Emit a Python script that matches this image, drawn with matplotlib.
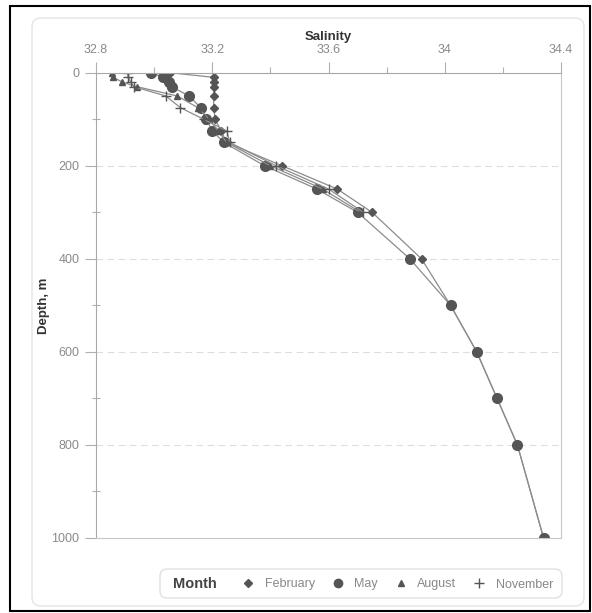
import matplotlib
matplotlib.use("Agg")
import matplotlib.pyplot as plt
from matplotlib.lines import Line2D
from matplotlib.patches import FancyBboxPatch, Rectangle
from matplotlib.ticker import MultipleLocator

plt.rcParams['font.family'] = ['Liberation Sans', 'DejaVu Sans']

# depth profiles of salinity, by month
depth_feb = [0, 10, 20, 30, 50, 75, 100, 125, 150, 200, 250, 300, 400, 500, 600, 700, 800, 1000]
sal_feb = [33.055, 33.205, 33.205, 33.205, 33.205, 33.205, 33.21, 33.23, 33.25, 33.44, 33.63, 33.75,
           33.92, 34.02, 34.11, 34.18, 34.25, 34.34]

depth_may = [0, 10, 20, 30, 50, 75, 100, 125, 150, 200, 250, 300, 400, 500, 600, 700, 800, 1000]
sal_may = [32.99, 33.03, 33.05, 33.06, 33.12, 33.16, 33.18, 33.20, 33.24, 33.38, 33.56, 33.70,
           33.88, 34.02, 34.11, 34.18, 34.25, 34.34]

depth_aug = [0, 10, 20, 30, 50, 75, 100, 125, 150, 200, 250, 300]
sal_aug = [32.855, 32.86, 32.89, 32.94, 33.08, 33.15, 33.19, 33.22, 33.25, 33.40, 33.58, 33.71]

depth_nov = [0, 10, 20, 30, 50, 75, 100, 125, 150, 200, 250, 300]
sal_nov = [32.91, 32.91, 32.92, 32.93, 33.04, 33.09, 33.17, 33.25, 33.26, 33.42, 33.60, 33.72]

months = ['February', 'May', 'August', 'November']
markers = ['D', 'o', '^', '+']
msizes = [4.5, 7, 4.5, 7]

line_col = '#8c8c8c'
mark_col = '#555555'
tick_col = '#8a8a8a'

W, H = 592, 613
fig = plt.figure(figsize=(W / 100, H / 100), dpi=100)

# outer black frame and inner rounded panel
fig.patches.append(Rectangle((9.5 / W, 1 - 611 / H), 580 / W, 605.5 / H,
                             transform=fig.transFigure, fill=False, edgecolor='black', lw=1.5))
fig.patches.append(FancyBboxPatch((32 / W, 1 - 606 / H), 552 / W, 588 / H,
                                  boxstyle='round,pad=0,rounding_size=0.015',
                                  transform=fig.transFigure, fill=False,
                                  edgecolor='#e4e4e4', lw=1))

ax = fig.add_axes([96 / W, 1 - 538 / H, 465 / W, 465.3 / H])

series = [(sal_feb, depth_feb), (sal_may, depth_may), (sal_aug, depth_aug), (sal_nov, depth_nov)]
for (sal, dep), m, ms, name in zip(series, markers, msizes, months):
    ax.plot(sal, dep, color=line_col, lw=0.9, marker=m, ms=ms,
            mfc=mark_col, mec=mark_col, mew=1.0, label=name)

ax.set_xlim(32.8, 34.4)
ax.set_ylim(1000, 0)
ax.xaxis.set_minor_locator(MultipleLocator(0.2))
ax.yaxis.set_major_locator(MultipleLocator(200))
ax.yaxis.set_minor_locator(MultipleLocator(100))
ax.xaxis.tick_top()
ax.xaxis.set_label_position('top')
ax.set_xticks([32.8, 33.2, 33.6, 34.0, 34.4])
ax.set_xticklabels(['32.8', '33.2', '33.6', '34', '34.4'])

ax.tick_params(which='major', length=8, width=0.8, color='#b0b0b0', labelcolor=tick_col,
               labelsize=9, pad=4)
ax.tick_params(which='minor', length=4, width=0.8, color='#b0b0b0')
ax.tick_params(axis='y', which='minor', direction='inout', length=6)

ax.set_xlabel('Salinity', fontsize=9.5, fontweight='bold', color='#333333', labelpad=3)
ax.set_ylabel('Depth, m', fontsize=9.5, fontweight='bold', color='#333333', labelpad=1)

for s in ['left', 'top']:
    ax.spines[s].set_color('#a8a8a8')
for s in ['right', 'bottom']:
    ax.spines[s].set_color('#c8c8c8')

ax.grid(axis='y', which='major', color='#dddddd', ls=(0, (6, 4)), lw=0.8)
ax.set_axisbelow(True)

# legend: rounded box, bold "Month" lead-in, then the four entries
fig.patches.append(FancyBboxPatch((160 / W, 1 - 598 / H), 402 / W, 29 / H,
                                  boxstyle='round,pad=0,rounding_size=0.012',
                                  transform=fig.transFigure, facecolor='white',
                                  edgecolor='#e0e0e0', lw=1))
fig.text(173 / W, 1 - 583.5 / H, 'Month', fontsize=10.5, fontweight='bold',
         color='#444444', ha='left', va='center')

legend_ms = [4.5, 6, 4.5, 7]
handles = []
for m, ms in zip(markers, legend_ms):
    handles.append(Line2D([], [], linestyle='none', marker=m, ms=ms,
                          mfc=mark_col, mec=mark_col, mew=1.0))
leg = fig.legend(handles, months, ncol=4, loc='center left',
                 bbox_to_anchor=(244 / W, 1 - 584.5 / H),
                 frameon=False, fontsize=9, handlelength=0.7, handletextpad=0.95,
                 columnspacing=1.5, borderpad=0, borderaxespad=0)
for t in leg.get_texts():
    t.set_color('#888888')

fig.savefig('out.png', dpi=100)
